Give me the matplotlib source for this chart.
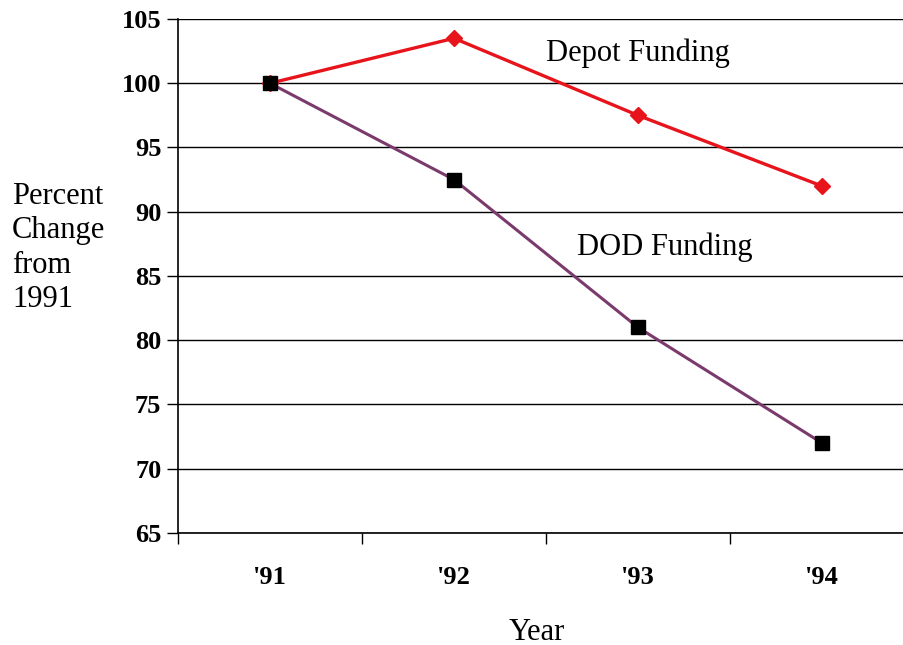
import matplotlib.pyplot as plt

years = ["'91", "'92", "'93", "'94"]
depot_funding = [100, 103.5, 97.5, 92]
dod_funding = [100, 92.5, 81, 72]
y_ticks = [65, 70, 75, 80, 85, 90, 95, 100, 105]

plt.rcParams["font.family"] = ["Liberation Serif", "DejaVu Serif"]

fig = plt.figure(figsize=(9.04, 6.45), dpi=100)
# plot area runs slightly past the right edge of the canvas
ax = fig.add_axes([178 / 904, 1 - 533 / 645, 736 / 904, 514 / 645])

x = list(range(len(years)))
ax.plot(x, depot_funding, color="#e8141c", lw=2.4, marker="D", ms=8.5,
        mfc="#e8141c", mec="#e8141c", zorder=3)
ax.plot(x, dod_funding, color="#7a3a6c", lw=2.2, marker="s", ms=10.5,
        mfc="black", mec="black", zorder=4)

ax.set_xlim(-0.5, len(years) - 0.5)
ax.set_ylim(65, 105)
ax.set_yticks(y_ticks)
ax.set_yticklabels([str(v) for v in y_ticks], fontsize=19, fontweight="bold")
ax.yaxis.grid(True, color="black", lw=1.0)
ax.set_axisbelow(True)

# category ticks sit on the boundaries, labels in the middle
ax.set_xticks([i - 0.5 for i in range(len(years))])
ax.set_xticklabels([])
ax.set_xticks(x, minor=True)
ax.set_xticklabels(years, minor=True, fontsize=19, fontweight="bold")
ax.tick_params(axis="x", which="major", length=8, width=1, direction="out")
ax.tick_params(axis="x", which="minor", length=0, pad=24)
ax.tick_params(axis="y", length=8, width=1, direction="out", pad=4)

for side in ("top", "right"):
    ax.spines[side].set_visible(False)
for side in ("left", "bottom"):
    ax.spines[side].set_linewidth(1.2)

ax.text(1.5, 102.3, "Depot Funding", fontsize=22, ha="left", va="center")
ax.text(1.67, 87.2, "DOD Funding", fontsize=22, ha="left", va="center")

fig.text(12 / 904, 1 - 248 / 645, "Percent\nChange\nfrom\n1991", fontsize=22,
         ha="left", va="center", linespacing=1.25)
fig.text(537 / 904, 1 - 632 / 645, "Year", fontsize=22, ha="center", va="center")

fig.savefig("out.png", dpi=100)
